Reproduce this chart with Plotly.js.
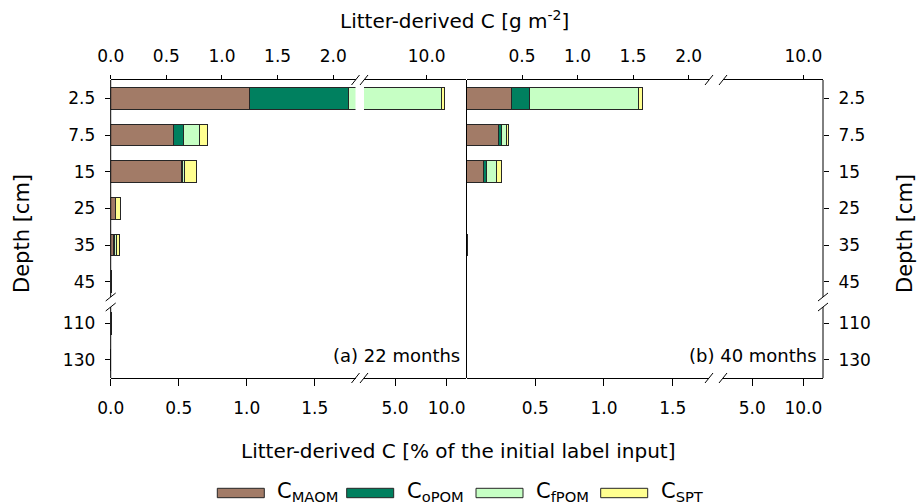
<!DOCTYPE html>
<html>
<head>
<meta charset="utf-8">
<script src="https://cdn.plot.ly/plotly-3.0.1.min.js"></script>
<style>html,body{margin:0;padding:0;background:#fff;}#chart{width:920px;height:504px;}</style>
</head>
<body>
<div id="chart"></div>
<script>
// ---- data (Litter-derived C, % of initial label input) ----
const depths = ['2.5', '7.5', '15', '25', '35', '45', '110', '130'];
const fractions = ['MAOM', 'oPOM', 'fPOM', 'SPT'];
const fractionColors = ['#A27B67', '#00805F', '#C6FFC4', '#FFFF90'];

// (a) 22 months
const maom22 = [1.017, 0.463, 0.522, 0.037, 0.022, 0.006, 0.004, 0];
const opom22 = [0.735, 0.071, 0.003, 0, 0.004, 0, 0, 0];
const fpom22 = [7.77, 0.118, 0.017, 0, 0.020, 0, 0, 0];
const spt22  = [0.23, 0.059, 0.086, 0.037, 0.015, 0, 0, 0];

// (b) 40 months
const maom40 = [0.328, 0.236, 0.124, 0, 0.006, 0, 0, 0];
const opom40 = [0.131, 0.020, 0.020, 0, 0, 0, 0, 0];
const fpom40 = [0.794, 0.036, 0.073, 0, 0, 0, 0, 0];
const spt40  = [0.024, 0.012, 0.034, 0, 0, 0, 0, 0];

const panelLabels = ['(a) 22 months', '(b) 40 months'];
const bottomTicks1 = [0, 0.5, 1, 1.5];
const bottomTicks2 = [5, 10];
const topTicks1 = [0, 0.5, 1, 1.5, 2];
const topTicks2 = [10];

// ---- geometry helpers ----
const W = 920, H = 504;
const X = p => p / W;
const Y = p => 1 - p / H;
const fmt = v => v.toFixed(1);

// depth positions: evenly spaced, with an axis break before 110 cm
const breakIdx = 6, breakGap = 0.134;
const yPos = depths.map((d, i) => i < breakIdx ? i : i + breakGap);

const FONT = 'DejaVu Sans, Liberation Sans, Arial, sans-serif';
const tickFont = {family: FONT, size: 17, color: '#000'};

const sets22 = [maom22, opom22, fpom22, spt22];
const sets40 = [maom40, opom40, fpom40, spt40];

const traces = [];
function addBars(sets, xa, ya) {
  sets.forEach((vals, k) => {
    traces.push({
      type: 'bar', orientation: 'h',
      x: vals, y: yPos, width: 0.59,
      name: 'C' + fractions[k],
      marker: {color: fractionColors[k], line: {color: '#262626', width: 1}},
      xaxis: xa, yaxis: ya, showlegend: false, hoverinfo: 'skip'
    });
  });
}
addBars(sets22, 'x', 'y');
addBars(sets22, 'x2', 'y');
addBars(sets40, 'x3', 'y2');
addBars(sets40, 'x4', 'y2');
// dummy traces so the top (g m-2) axes exist
['x5', 'x6', 'x7', 'x8'].forEach((xa, i) => {
  traces.push({type: 'scatter', x: [null], y: [null], xaxis: xa, yaxis: i < 2 ? 'y' : 'y2',
               showlegend: false, hoverinfo: 'skip'});
});

const TOP = 80, BOT = 378;
const seg = {
  L1: [110.7, 355.5], L2: [364, 466],
  R1: [466.5, 709], R2: [723, 823]
};

function xBase(dom, range, tv, anchor, extra) {
  return Object.assign({
    domain: [X(dom[0]), X(dom[1])], range: range, anchor: anchor,
    tickvals: tv, ticktext: tv.map(fmt), tickfont: tickFont,
    showline: true, linecolor: '#000', linewidth: 1,
    ticks: 'outside', ticklen: 7, tickwidth: 1, tickcolor: '#000',
    showgrid: false, zeroline: false, fixedrange: true, ticklabelstandoff: 8
  }, extra || {});
}
function xTop(over, range, tv, anchor) {
  return {
    overlaying: over, side: 'top', anchor: anchor, range: range,
    tickvals: tv, ticktext: tv.map(fmt), tickfont: tickFont,
    showline: true, linecolor: '#000', linewidth: 1,
    ticks: 'outside', ticklen: 4, tickwidth: 1, tickcolor: '#000',
    showgrid: false, zeroline: false, fixedrange: true, ticklabelstandoff: 6
  };
}
function yAx(anchor, side) {
  return {
    domain: [Y(BOT), Y(TOP)], range: [7.625, -0.5], anchor: anchor, side: side,
    tickvals: yPos, ticktext: depths, tickfont: tickFont,
    showline: false, ticks: 'outside', ticklen: 5, tickwidth: 1, tickcolor: '#000',
    showgrid: false, zeroline: false, fixedrange: true, ticklabelstandoff: 6
  };
}

const shapes = [];
function line(x0, y0, x1, y1, w) {
  shapes.push({type: 'line', xref: 'paper', yref: 'paper',
    x0: X(x0), y0: Y(y0), x1: X(x1), y1: Y(y1), line: {color: '#000', width: w || 1}});
}
// frame verticals (with break on outer sides)
const yb0 = 297, yb1 = 307;
line(seg.L1[0], TOP, seg.L1[0], yb0); line(seg.L1[0], yb1, seg.L1[0], BOT);
line(466.5, TOP, 466.5, BOT);
line(seg.R2[1], TOP, seg.R2[1], yb0); line(seg.R2[1], yb1, seg.R2[1], BOT);
// break slashes on horizontal axes
[seg.L1[1], seg.L2[0], seg.R1[1], seg.R2[0]].forEach(cx => {
  [TOP, BOT].forEach(cy => line(cx - 4, cy + 5, cx + 4, cy - 5, 1));
});
// break slashes on vertical axes
[seg.L1[0], seg.R2[1]].forEach(cx => {
  [yb0, yb1].forEach(cy => line(cx - 5, cy + 4, cx + 5, cy - 4, 1));
});

const annotations = [];
function txt(t, x, y, size, extra) {
  annotations.push(Object.assign({text: t, xref: 'paper', yref: 'paper', x: X(x), y: Y(y),
    showarrow: false, font: {family: FONT, size: size, color: '#000'},
    xanchor: 'center', yanchor: 'middle'}, extra || {}));
}
txt('Litter-derived C [g m<sup>-2</sup>]', 454, 20, 20);
txt('Litter-derived C [% of the initial label input]', 458, 451, 20);
txt('Depth [cm]', 22, 234, 21, {textangle: -90});
txt('Depth [cm]', 905, 234, 21, {textangle: -90});
txt(panelLabels[0], 396, 355, 18);
txt(panelLabels[1], 753, 355, 18);

// custom legend
const legRectX = [217.3, 346.7, 476, 600.7];
fractions.forEach((f, k) => {
  shapes.push({type: 'rect', xref: 'paper', yref: 'paper',
    x0: X(legRectX[k]), x1: X(legRectX[k] + 47), y0: Y(497.7), y1: Y(488.3),
    fillcolor: fractionColors[k], line: {color: '#262626', width: 1}});
  txt('C<sub>' + f + '</sub>', legRectX[k] + 58, 492, 21, {xanchor: 'left'});
});

const layout = {
  width: W, height: H, autosize: false,
  margin: {l: 0, r: 0, t: 0, b: 0},
  paper_bgcolor: '#fff', plot_bgcolor: 'rgba(0,0,0,0)',
  barmode: 'stack', showlegend: false, hovermode: false,
  font: {family: FONT, color: '#000'},
  xaxis:  xBase(seg.L1, [0, 1.8], bottomTicks1, 'y'),
  xaxis2: xBase(seg.L2, [2.0, 11.87], bottomTicks2, 'y'),
  xaxis3: xBase(seg.R1, [0, 1.764], bottomTicks1.slice(1), 'y2'),
  xaxis4: xBase(seg.R2, [2.13, 11.93], bottomTicks2, 'y2'),
  xaxis5: xTop('x', [0, 2.2], topTicks1, 'y'),
  xaxis6: xTop('x2', [2.57, 14.66], topTicks2, 'y'),
  xaxis7: xTop('x3', [0, 2.183], topTicks1.slice(1), 'y2'),
  xaxis8: xTop('x4', [2.13, 11.93], topTicks2, 'y2'),
  yaxis:  yAx('x', 'left'),
  yaxis2: yAx('x4', 'right'),
  shapes: shapes, annotations: annotations
};

Plotly.newPlot('chart', traces, layout, {staticPlot: true, displayModeBar: false});
</script>
</body>
</html>
